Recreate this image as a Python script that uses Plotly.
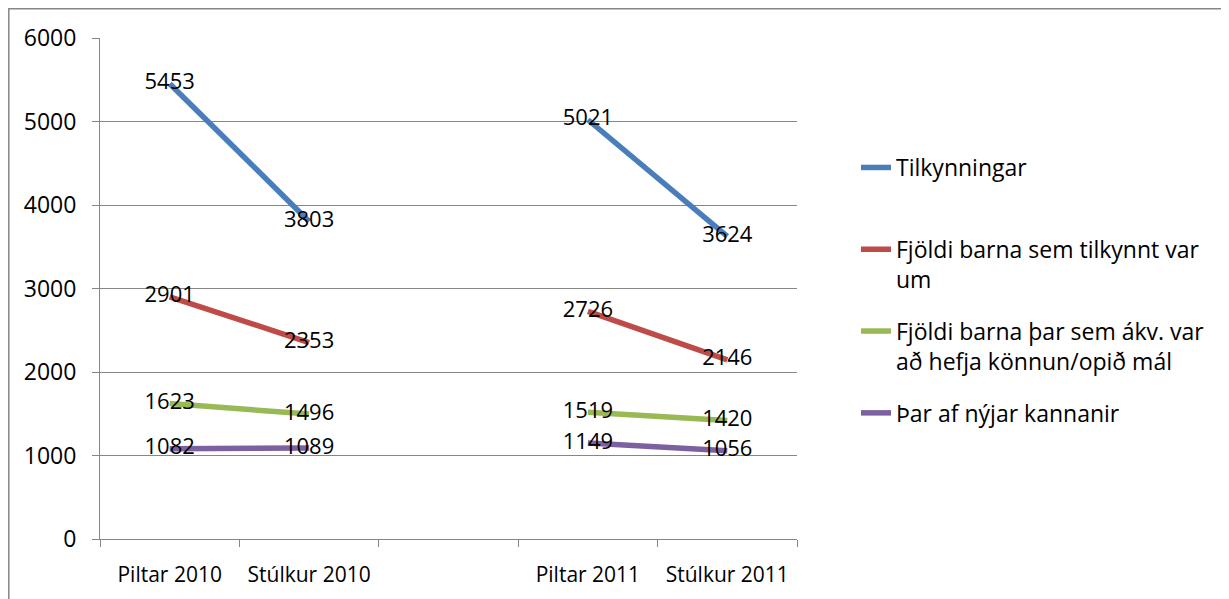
import plotly.graph_objects as go

categories = ["Piltar 2010", "Stúlkur 2010", " ", "Piltar 2011", "Stúlkur 2011"]
series_names = [
    "Tilkynningar<br> ",
    "Fjöldi barna sem tilkynnt var<br>um",
    "Fjöldi barna þar sem ákv. var<br>að hefja könnun/opið mál",
    "Þar af nýjar kannanir",
]
tilkynningar = [5453, 3803, None, 5021, 3624]
fjoldi_barna = [2901, 2353, None, 2726, 2146]
fjoldi_konnun = [1623, 1496, None, 1519, 1420]
nyjar_kannanir = [1082, 1089, None, 1149, 1056]
series_values = [tilkynningar, fjoldi_barna, fjoldi_konnun, nyjar_kannanir]
colors = ["#4A7EBB", "#BE4B48", "#98B954", "#7D60A0"]
y_ticks = [0, 1000, 2000, 3000, 4000, 5000, 6000]

FONT = "Open Sans"
FS = 22
grey = "#868686"

fig = go.Figure()
for i, (name, vals, col) in enumerate(zip(series_names, series_values, colors)):
    fig.add_trace(go.Scatter(
        x=categories, y=vals, mode="lines", name=name,
        line=dict(color=col, width=5.5), connectgaps=False,
        legendgroup=f"g{i}", hoverinfo="skip",
    ))
for vals in series_values:
    fig.add_trace(go.Scatter(
        x=categories, y=vals, mode="text",
        text=[("" if v is None else str(v)) for v in vals],
        textposition="middle center",
        textfont=dict(family=FONT, size=FS, color="black"),
        showlegend=False, hoverinfo="skip",
    ))

# The page shows the figure offset by the 8px body margin.
OFF = 8
W, H = 1229, 599
L, R, T, B = 100 - OFF, 797 - OFF, 38 - OFF, 539 - OFF
pw, ph = R - L, B - T

def px(x):
    return (x - OFF - L) / pw

def py(y):
    return (B - (y - OFF)) / ph

fig.add_shape(type="rect", xref="paper", yref="paper",
              x0=px(8.8), x1=px(1250), y0=py(620), y1=py(8.8),
              line=dict(color=grey, width=1.5), fillcolor="rgba(0,0,0,0)", layer="below")

fig.update_layout(
    width=W, height=H,
    margin=dict(l=L, r=W - R, t=T, b=H - B, pad=0, autoexpand=False),
    paper_bgcolor="white", plot_bgcolor="white",
    font=dict(family=FONT, size=FS, color="black"),
    showlegend=True,
    legend=dict(
        x=px(856), y=py(146), xanchor="left", yanchor="top",
        font=dict(family=FONT, size=23, color="black"),
        tracegroupgap=19, valign="top", bgcolor="rgba(0,0,0,0)",
    ),
    xaxis=dict(
        type="category", categoryorder="array", categoryarray=categories,
        range=[-0.5, 4.5], tickson="boundaries", ticks="outside", ticklen=7,
        tickcolor=grey, showline=True, linecolor=grey, linewidth=1,
        showgrid=False, tickfont=dict(family=FONT, size=21), tickangle=0,
        automargin=False, ticklabelstandoff=17, fixedrange=True,
    ),
    yaxis=dict(
        range=[0, 6000], tickvals=y_ticks, ticks="outside", ticklen=7,
        tickcolor=grey, showline=True, linecolor=grey, linewidth=1,
        showgrid=True, gridcolor=grey, gridwidth=1, zeroline=False,
        tickfont=dict(family=FONT, size=23), ticklabelstandoff=11,
        automargin=False, fixedrange=True,
    ),
)

fig.write_html("out.html")
